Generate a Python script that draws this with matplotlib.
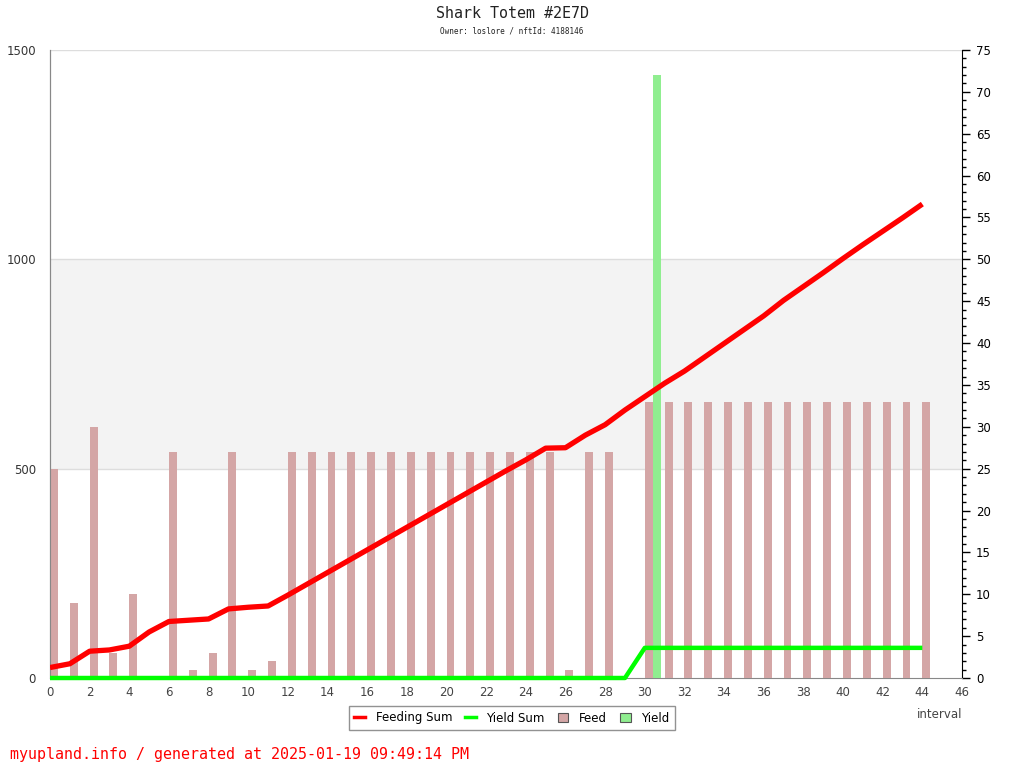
import numpy as np
import matplotlib
matplotlib.use('Agg')
import matplotlib.pyplot as plt
from matplotlib.lines import Line2D
from matplotlib.patches import Patch

# data
intervals = list(range(45))
feed = [25, 9, 30, 3, 10, 0, 27, 1, 3, 27, 1, 2,
        27, 27, 27, 27, 27, 27, 27, 27, 27, 27, 27, 27, 27, 27,
        1, 27, 27, 0,
        33, 33, 33, 33, 33, 33, 33, 33, 33, 33, 33, 33, 33, 33, 33]
yield_ = [0] * 30 + [72] + [0] * 14
feeding_sum = [25, 34, 64, 67, 76, 110, 135, 138, 141, 165, 169, 172,
               198, 225, 252, 279, 306, 333, 360, 387, 414, 441, 468, 495, 521, 549,
               550, 580, 605, 640, 672, 704, 733, 766, 799, 832, 865,
               902, 935, 968, 1002, 1035, 1067, 1099, 1132]
yield_sum = [0] * 30 + [72] * 15

title = "Shark Totem #2E7D"
subtitle = "Owner: loslore / nftId: 4188146"
footer = "myupland.info / generated at 2025-01-19 09:49:14 PM"

feed_color = "#d4a6a6"
yield_color = "#90ee90"

fig = plt.figure(figsize=(10.24, 7.68), dpi=100)
ax = fig.add_axes([50 / 1024, 90 / 768, 912 / 1024, 628 / 768])
ax2 = ax.twinx()

left_max, right_max = 1500, 75
ratio = left_max / right_max

# bars on the primary axes (right scale), lines on top (left scale)
x = np.array(intervals)
ax.bar(x, feed, width=0.4, align='edge', color=feed_color, zorder=3)
ax.bar(x + 0.4, yield_, width=0.4, align='edge', color=yield_color, zorder=3)
ax.axhspan(500 / ratio, 1000 / ratio, color="#f3f3f3", zorder=0, lw=0)
for v in (500, 1000, 1500):
    ax.axhline(v / ratio, color="#dddddd", lw=1, zorder=1)

ax2.plot(x, feeding_sum, color="#ff0000", lw=3.8, solid_capstyle='butt', zorder=5)
ax2.plot(x, yield_sum, color="#00ff00", lw=3.2, solid_capstyle='butt', zorder=4,
         clip_on=False)

ax.set_xlim(0, 46)
ax.set_ylim(0, right_max)
ax2.set_ylim(0, left_max)

# right axis (bars)
ax.yaxis.tick_right()
ax.set_yticks(np.arange(0, 76, 5))
ax.set_yticks(np.arange(0, 76, 1), minor=True)
ax.tick_params(axis='y', which='major', length=6, width=1, colors='black',
               labelsize=8.5, pad=4)
ax.tick_params(axis='y', which='minor', length=3, width=1, colors='black')

# left axis (sums)
ax2.yaxis.tick_left()
ax2.set_yticks([0, 500, 1000, 1500])
ax2.tick_params(axis='y', length=0, labelsize=8.5, labelcolor="#333333", pad=10)

ax.set_xticks(np.arange(0, 47, 2))
ax.tick_params(axis='x', length=0, labelsize=8.5, labelcolor="#444444", pad=6)

for a in (ax, ax2):
    a.spines['top'].set_visible(False)
    a.spines['left'].set_color("#888888")
    a.spines['bottom'].set_color("#888888")
    a.spines['right'].set_color("black")
ax2.spines['right'].set_visible(False)
ax2.spines['bottom'].set_visible(False)

fig.text(0.5, 1 - 14 / 768, title, ha='center', va='center',
         family='DejaVu Sans Mono', fontsize=10.8, color="#222222")
fig.text(0.5, 1 - 31 / 768, subtitle, ha='center', va='center',
         family='DejaVu Sans Mono', fontsize=5.5, color="#222222")
fig.text(962 / 1024, 1 - 714 / 768, "interval", ha='right', va='center',
         fontsize=8.5, color="#444444")
fig.text(10 / 1024, 1 - 754 / 768, footer, ha='left', va='center',
         family='DejaVu Sans Mono', fontsize=10.8, color="#ff0000")

handles = [Line2D([0], [0], color="#ff0000", lw=2.5),
           Line2D([0], [0], color="#00ff00", lw=2.5),
           Patch(facecolor=feed_color, edgecolor="#555555", lw=0.8),
           Patch(facecolor=yield_color, edgecolor="#555555", lw=0.8)]
leg = fig.legend(handles, ["Feeding Sum", "Yield Sum", "Feed", "Yield"],
                 loc='center', bbox_to_anchor=(512 / 1024, 1 - 718 / 768),
                 ncol=4, fontsize=8.5, frameon=True, fancybox=False,
                 edgecolor="#777777", handlelength=0.9, handleheight=0.7,
                 handletextpad=0.9, columnspacing=1.1, borderpad=0.45)
leg.get_frame().set_linewidth(1)

fig.savefig("out.png", dpi=100)
